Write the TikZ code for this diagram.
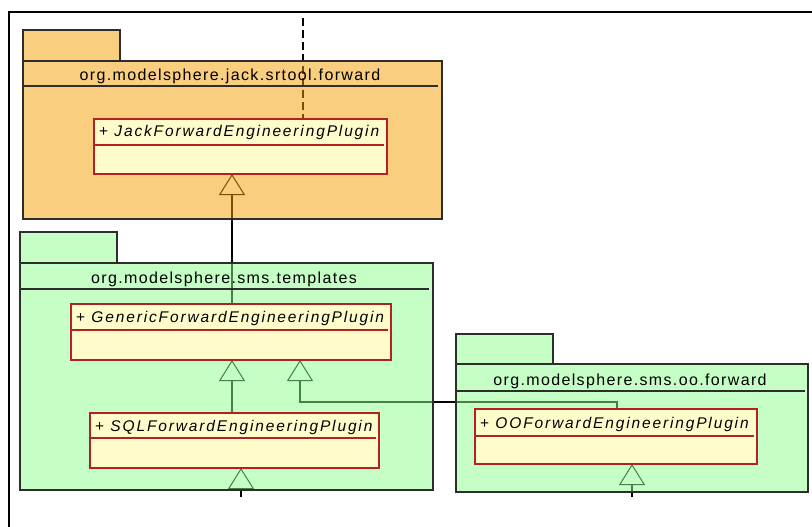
\documentclass[tikz,border=0pt]{standalone}
\usepackage{fontspec}
\setmainfont{Liberation Sans}
\newfontfamily\pkgfont[LetterSpace=8.5]{Liberation Sans}
\newfontfamily\clsfont[LetterSpace=12]{Liberation Sans}
\usetikzlibrary{arrows.meta}

\definecolor{pkgorange}{RGB}{245,157,0}
\definecolor{pkggreen}{RGB}{139,255,139}
\definecolor{clsfill}{RGB}{255,252,204}
\definecolor{clsline}{RGB}{178,34,34}
\definecolor{pkgline}{RGB}{45,45,45}

\pgfdeclarelayer{conn}
\pgfdeclarelayer{pkg}
\pgfsetlayers{conn,pkg,main}

\tikzset{
  pkgshape/.style={draw=pkgline, line width=1.4pt, fill opacity=0.5, draw opacity=1,
                   outer sep=0pt, inner sep=0pt, rectangle},
  pkgo/.style={pkgshape, fill=pkgorange},
  pkgg/.style={pkgshape, fill=pkggreen},
  pkgsep/.style={draw=pkgline, line width=1.4pt},
  pkgname/.style={inner sep=0pt, font=\pkgfont\fontsize{16}{19}\selectfont},
  clsbox/.style={draw=clsline, fill=clsfill, line width=1.5pt, outer sep=0pt,
                 inner sep=0pt, rectangle},
  clssep/.style={draw=clsline, line width=1.2pt},
  clsname/.style={inner sep=0pt, anchor=west, font=\clsfont\fontsize{15.5}{18}\selectfont},
  gen/.style={draw=black, line width=1.1pt,
              -{Triangle[open, length=21pt, width=26pt, line width=1pt]}},
  dep/.style={draw=black, line width=1.2pt, dash pattern=on 8pt off 4pt},
}

\begin{document}
\begin{tikzpicture}[x=1pt, y=-1pt]
\useasboundingbox (0,0) rectangle (812,527);

% diagram frame
\draw[line width=1.6pt] (9,527) -- (9,12) -- (812,12);

% packages (translucent, lines show through)
\begin{pgfonlayer}{pkg}
  \node[pkgo, minimum width=97pt, minimum height=31pt] (jtab) at (71.5,45.5) {};
  \node[pkgo, minimum width=419pt, minimum height=158pt] (jpkg) at (232.5,140) {};
  \draw[pkgsep] (23,86) -- (438,86);

  \node[pkgg, minimum width=97pt, minimum height=31pt] (ttab) at (68.5,247.5) {};
  \node[pkgg, minimum width=413pt, minimum height=227pt] (tpkg) at (226.5,376.5) {};
  \draw[pkgsep] (20,289) -- (429,289);

  \node[pkgg, minimum width=97pt, minimum height=30pt] (otab) at (504.5,349) {};
  \node[pkgg, minimum width=352pt, minimum height=128pt] (opkg) at (632,428) {};
  \draw[pkgsep] (456,391) -- (805,391);
\end{pgfonlayer}

% package names
\node[pkgname] (jname) at (230,76.5) {org.modelsphere.jack.srtool.forward};
\node[pkgname] (tname) at (224,279.5) {org.modelsphere.sms.templates};
\node[pkgname] (oname) at (630,381.5) {org.modelsphere.sms.oo.forward};

% classes
\node[clsbox, minimum width=293pt, minimum height=55pt] (jack) at (240.5,146.5) {};
\draw[clssep] (94,145) -- (384,145);
\node[clsname] (jackt) at (99,132.5) {+ \textit{JackForwardEngineeringPlugin}};

\node[clsbox, minimum width=320pt, minimum height=56pt] (generic) at (231,332) {};
\draw[clssep] (71,330) -- (388,330);
\node[clsname] (generict) at (76,318.5) {+ \textit{GenericForwardEngineeringPlugin}};

\node[clsbox, minimum width=289pt, minimum height=55pt] (sql) at (234.5,440.5) {};
\draw[clssep] (90,438) -- (376,438);
\node[clsname] (sqlt) at (95,427) {+ \textit{SQLForwardEngineeringPlugin}};

\node[clsbox, minimum width=282pt, minimum height=55pt] (oo) at (616,436.5) {};
\draw[clssep] (475,436) -- (754,436);
\node[clsname] (oot) at (480,424) {+ \textit{OOForwardEngineeringPlugin}};

% connectors (under the packages)
\coordinate (deptop) at (303,18);
\coordinate (sqlsub) at (241,497);
\coordinate (oosub) at (632,497);
\begin{pgfonlayer}{conn}
  \draw[dep] (deptop) -- (deptop |- jack.north);
  \draw[gen] (generic.north -| 232,0) -- (jack.south -| 232,0);
  \draw[gen] (sql.north -| 232,0) -- (generic.south -| 232,0);
  \draw[gen] (oo.north -| 617,0) -- (617,402) -- (300,402) -- (generic.south -| 300,0);
  \draw[gen] (sqlsub) -- (sqlsub |- sql.south);
  \draw[gen] (oosub) -- (oosub |- oo.south);
\end{pgfonlayer}
\end{tikzpicture}
\end{document}
